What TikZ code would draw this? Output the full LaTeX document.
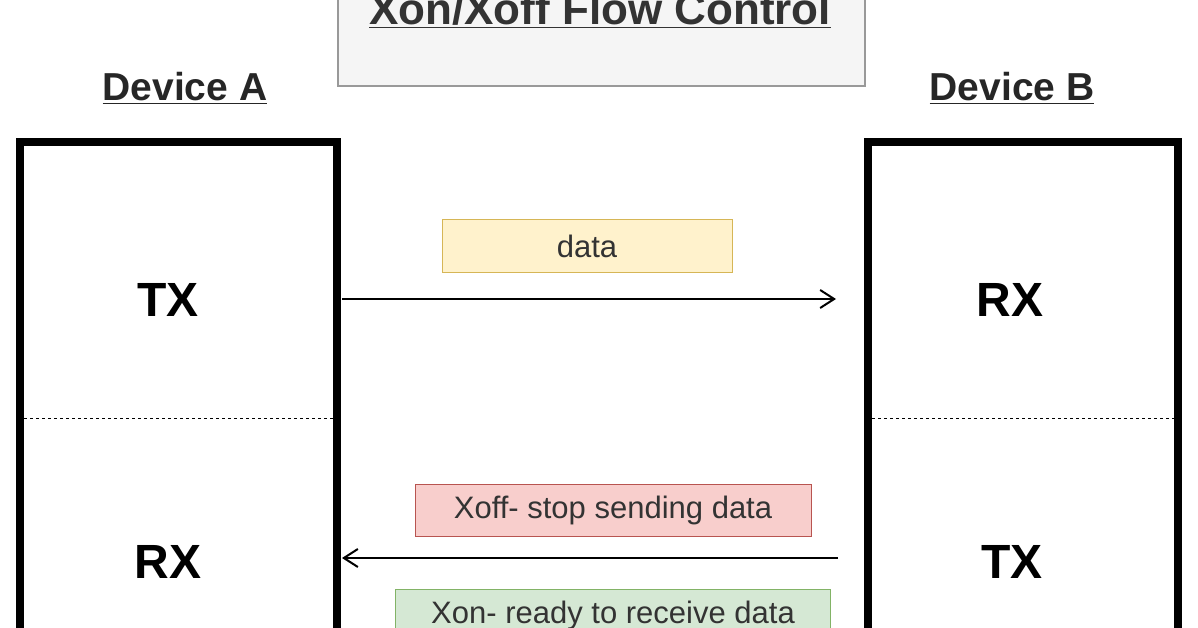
\documentclass[tikz,border=0pt]{standalone}
\usepackage{fontspec}
\setmainfont{Liberation Sans}
\usetikzlibrary{arrows.meta}
\definecolor{yf}{HTML}{FFF2CC}\definecolor{yd}{HTML}{D6B656}
\definecolor{rf}{HTML}{F8CECC}\definecolor{rd}{HTML}{B85450}
\definecolor{gf}{HTML}{D5E8D4}\definecolor{gd}{HTML}{82B366}
\begin{document}
\begin{tikzpicture}[x=1pt,y=-1pt,
  dev/.style={draw,line width=8pt},
  big/.style={font=\fontsize{48}{52}\selectfont\bfseries},
  lab/.style={font=\fontsize{39}{42}\selectfont\bfseries},
  msg/.style={draw,line width=1pt,font=\fontsize{31}{34}\selectfont,text=black!80},
  arr/.style={-{Straight Barb[length=14pt,width=18pt]},line width=2pt}]
\useasboundingbox (0,0) rectangle (1198,628);
\node[draw=gray!80,fill=black!4,line width=1.5pt,minimum width=527pt,minimum height=120pt,anchor=south west] (tb) at (337,87) {};
\node[font=\fontsize{44}{48}\selectfont\bfseries,text=black!80] (title) at (600,10) {\underline{Xon/Xoff Flow Control}};
\node[lab,text=black!85] (da) at (185,88) {\underline{Device A}};
\node[lab,text=black!85] (db) at (1012,88) {\underline{Device B}};
\draw[dev] (20,700) -- (20,142) -- (337,142) -- (337,700);
\draw[dev] (868,700) -- (868,142) -- (1178,142) -- (1178,700);
\draw[dashed,line width=1pt] (24,418) -- (333,418);
\draw[dashed,line width=1pt] (872,418) -- (1174,418);
\node[big] (atx) at (168,300) {TX};
\node[big] (arx) at (168,562) {RX};
\node[big] (brx) at (1010,300) {RX};
\node[big] (btx) at (1012,562) {TX};
\coordinate (a1) at (342,299); \coordinate (b1) at (836,299);
\coordinate (b2) at (838,558); \coordinate (a2) at (342,558);
\draw[arr] (a1) -- (b1);
\draw[arr] (b2) -- (a2);
\node[msg,fill=yf,draw=yd,minimum width=290pt,minimum height=52pt] (data) at (587,246) {data};
\node[msg,fill=rf,draw=rd,minimum width=396pt,minimum height=52pt] (xoff) at (613,510) {Xoff- stop sending data};
\node[msg,fill=gf,draw=gd,minimum width=435pt,minimum height=52pt,anchor=north] (xon) at (613,589) {Xon- ready to receive data};
\end{tikzpicture}
\end{document}
